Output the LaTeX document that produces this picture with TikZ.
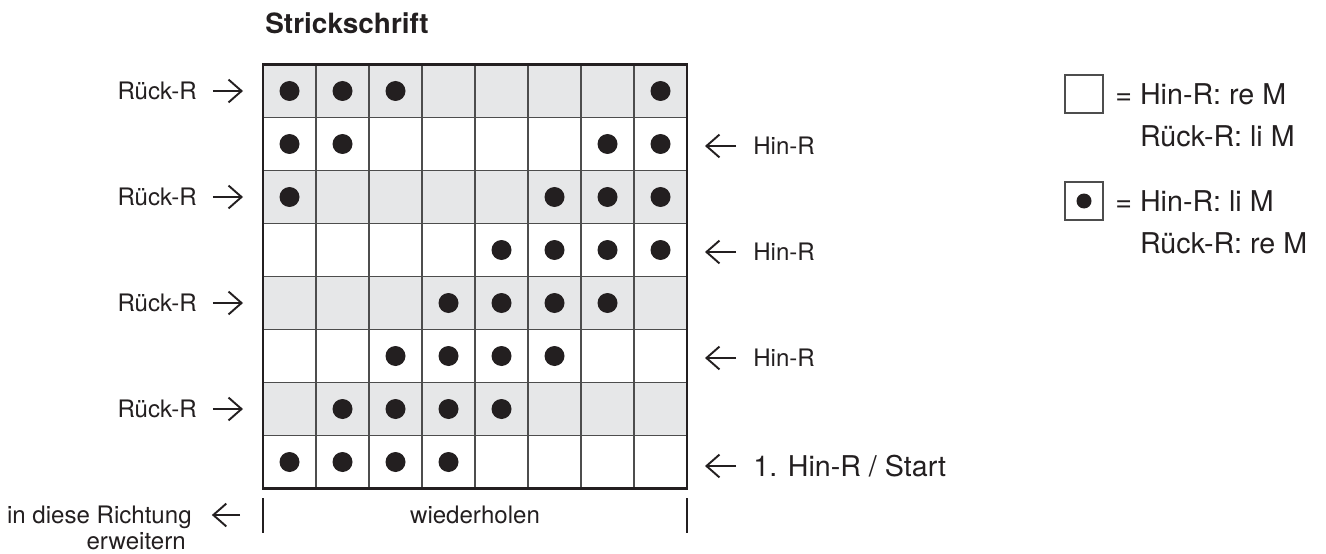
\documentclass[tikz,border=0pt]{standalone}
\usepackage{fontspec}
\setmainfont{TeX Gyre Heros}
\usetikzlibrary{arrows.meta}
\definecolor{ink}{HTML}{231F20}
\definecolor{rowgray}{HTML}{E6E7E8}
\definecolor{gridline}{HTML}{4D4D4D}

\begin{document}
\begin{tikzpicture}[
    x=0.02cm,y=-0.02cm,
    lbl/.style={font={\fontsize{13.7}{16}\selectfont},text=ink,inner sep=0pt},
    big/.style={font={\fontsize{16.3}{23.8}\selectfont},text=ink,inner sep=0pt},
    arr/.style={-{Straight Barb[length=7.4pt,width=13pt]},line width=1.1pt,draw=ink},
    dot/.style={fill=ink},
    keybox/.style={draw=gridline,line width=0.85pt,minimum size=0.76cm,inner sep=0pt},
    ]
    \useasboundingbox (0,0) rectangle (1326,554);
    % Title
    \node[big,font={\fontsize{15.9}{19}\selectfont\bfseries},anchor=west]
         (title) at (265,23) {Strickschrift};
    % Back rows shaded
    \foreach \r in {1,3,5,7}
        \fill[rowgray] (263,11.5+53*\r) rectangle (687,64.5+53*\r);
    % Grid lines
    \foreach \i in {1,...,7} {
        \draw[gridline,line width=0.85pt] (263+53*\i,64.5) -- (263+53*\i,488.5);
        \draw[gridline,line width=0.85pt] (263,64.5+53*\i) -- (687,64.5+53*\i);
    }
    \draw[ink,line width=1.7pt] (263,64.5) rectangle (687,488.5);
    % Stitches
    \foreach \r/\cols in {1/{1,2,3,8},2/{1,2,7,8},3/{1,6,7,8},4/{5,6,7,8},
                          5/{4,5,6,7},6/{3,4,5,6},7/{2,3,4,5},8/{1,2,3,4}}
        \foreach \c in \cols
            \fill[dot] (236.5+53*\c,38+53*\r) circle[radius=10];
    % Back rows (left)
    \foreach \r in {1,3,5,7} {
        \node[lbl,anchor=east] (rueck\r) at (197,38+53*\r) {Rück-R};
        \coordinate (rueckend\r) at (243,38+53*\r);
        \draw[arr,shorten <=9pt] (rueck\r) -- (rueckend\r);
    }
    % Front rows (right)
    \foreach \r in {2,4,6} {
        \node[lbl,anchor=west] (hin\r) at (753,40+53*\r) {Hin-R};
        \coordinate (hinend\r) at (705,40+53*\r);
        \draw[arr,shorten <=9.6pt] (hin\r) -- (hinend\r);
    }
    \node[big,anchor=west] (start) at (753,466) {1. Hin-R / Start};
    \coordinate (startend) at (705,466);
    \draw[arr,shorten <=9.6pt] (start) -- (startend);
    % Repeat
    \coordinate (repl) at (263,498);
    \coordinate (repr) at (687,498);
    \draw[ink,line width=1.3pt] (repl) -- ++(0,35);
    \draw[ink,line width=1.3pt] (repr) -- ++(0,35);
    \node[lbl,anchor=base] (rep) at (475,523) {wiederholen};
    \node[lbl,anchor=base east] (ext) at (192,523) {in diese Richtung};
    \node[lbl,anchor=base east] (ext2) at (186,549) {erweitern};
    \coordinate (extstart) at (240,515);
    \draw[arr,shorten >=11.3pt] (extstart) -- (extstart -| ext.east);
    % Key
    \node[keybox] (key1) at (1084,94) {};
    \node[big,anchor=north west,align=left] (key1txt) at (1115,83)
         {= Hin-R: re M\\\hphantom{= }Rück-R: li M};
    \node[keybox] (key2) at (1084,201) {};
    \fill[dot] (key2) circle[radius=7.5];
    \node[big,anchor=north west,align=left] (key2txt) at (1115,190)
         {= Hin-R: li M\\\hphantom{= }Rück-R: re M};
\end{tikzpicture}
\end{document}
